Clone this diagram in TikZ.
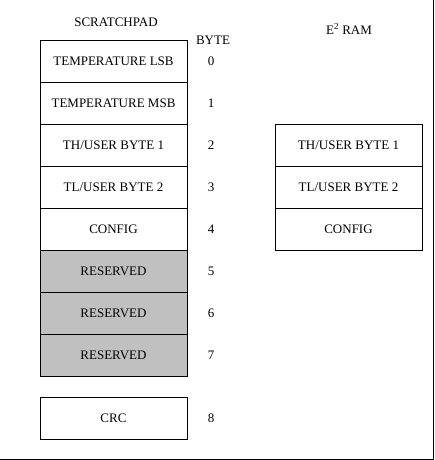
\documentclass[tikz,border=0pt]{standalone}
\usepackage{fontspec}
\setmainfont{Liberation Serif}
\usetikzlibrary{positioning}
\definecolor{resgray}{RGB}{192,192,192}
\tikzset{
  cell/.style={draw, line width=0.8pt, outer sep=0pt, inner sep=0pt,
    minimum width=147pt, minimum height=42pt, font=\fontsize{13}{15}\selectfont},
  res/.style={cell, fill=resgray},
  lbl/.style={font=\fontsize{13}{15}\selectfont}
}

\begin{document}
\begin{tikzpicture}[x=1pt,y=-1pt]
    \useasboundingbox (0,0) rectangle (434,460);
    % outer frame, right and bottom sides only
    \draw[line width=0.8pt] (433,0) -- (433,459) -- (0,459);

    % scratchpad bytes
    \node[cell] (b0) at (113.5,61) {TEMPERATURE LSB};
    \node[cell, below=0pt of b0] (b1) {TEMPERATURE MSB};
    \node[cell, below=0pt of b1] (b2) {TH/USER BYTE 1};
    \node[cell, below=0pt of b2] (b3) {TL/USER BYTE 2};
    \node[cell, below=0pt of b3] (b4) {CONFIG};
    \node[res, below=0pt of b4] (b5) {RESERVED};
    \node[res, below=0pt of b5] (b6) {RESERVED};
    \node[res, below=0pt of b6] (b7) {RESERVED};
    \node[cell] (b8) at (113.5,418) {CRC};

    % eeprom copies
    \node[cell] (e2) at (348.5,145) {TH/USER BYTE 1};
    \node[cell, below=0pt of e2] (e3) {TL/USER BYTE 2};
    \node[cell, below=0pt of e3] (e4) {CONFIG};

    % headings
    \node[lbl] (scr) at (116,22) {SCRATCHPAD};
    \node[lbl] (byte) at (213,40) {BYTE};
    \node[lbl] (ram) at (349,29) {E\textsuperscript{2} RAM};

    % byte numbers
    \coordinate (col) at (211,0);
    \node[lbl] (n0) at (col |- b0) {0};
    \node[lbl] (n1) at (col |- b1) {1};
    \node[lbl] (n2) at (col |- b2) {2};
    \node[lbl] (n3) at (col |- b3) {3};
    \node[lbl] (n4) at (col |- b4) {4};
    \node[lbl] (n5) at (col |- b5) {5};
    \node[lbl] (n6) at (col |- b6) {6};
    \node[lbl] (n7) at (col |- b7) {7};
    \node[lbl] (n8) at (col |- b8) {8};
\end{tikzpicture}
\end{document}
